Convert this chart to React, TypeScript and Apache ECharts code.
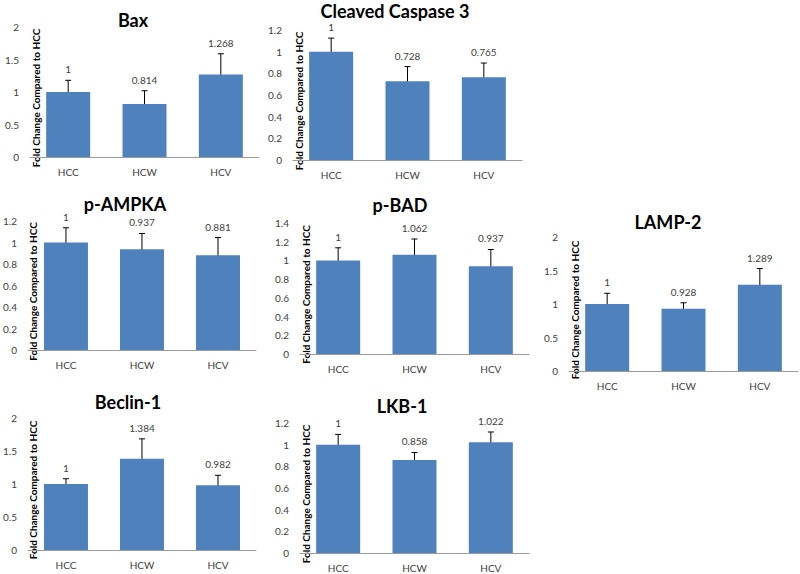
import React, { useEffect, useRef } from "react";
import * as echarts from "echarts";

const categories = ["HCC", "HCW", "HCV"];

const titles = ["Bax", "Cleaved Caspase 3", "p-AMPKA", "p-BAD", "LAMP-2", "Beclin-1", "LKB-1"];

const baxValues = [1, 0.814, 1.268];
const baxErrors = [0.18, 0.205, 0.32];
const caspaseValues = [1, 0.728, 0.765];
const caspaseErrors = [0.125, 0.134, 0.13];
const ampkaValues = [1, 0.937, 0.881];
const ampkaErrors = [0.137, 0.147, 0.165];
const badValues = [1, 1.062, 0.937];
const badErrors = [0.135, 0.167, 0.18];
const lampValues = [1, 0.928, 1.289];
const lampErrors = [0.16, 0.09, 0.24];
const beclinValues = [1, 1.384, 0.982];
const beclinErrors = [0.08, 0.3, 0.15];
const lkbValues = [1, 0.858, 1.022];
const lkbErrors = [0.095, 0.07, 0.095];

const valueSets = [baxValues, caspaseValues, ampkaValues, badValues, lampValues, beclinValues, lkbValues];
const errorSets = [baxErrors, caspaseErrors, ampkaErrors, badErrors, lampErrors, beclinErrors, lkbErrors];

// y-axis scales per panel
const yMaxes = [2, 1.2, 1.2, 1.4, 2, 2, 1.2];
const yIntervals = [0.5, 0.2, 0.2, 0.2, 0.5, 0.5, 0.2];

const yAxisName = "Fold Change Compared to HCC";

// layout (pixels): left, top, width, height of plot area; title centre
const layouts = [
  { left: 30, top: 27, width: 229, height: 130, tx: 133, ty: 20 },
  { left: 293, top: 30, width: 229, height: 130, tx: 395, ty: 11 },
  { left: 27, top: 221, width: 229, height: 129, tx: 125, ty: 204 },
  { left: 300, top: 223, width: 229, height: 131, tx: 400, ty: 205 },
  { left: 569, top: 237, width: 229, height: 134, tx: 668, ty: 222 },
  { left: 27, top: 418, width: 229, height: 132, tx: 128, ty: 402 },
  { left: 300, top: 423, width: 229, height: 130, tx: 402, ty: 406 },
];

const FONT = "Lato, 'Open Sans', sans-serif";
const BAR_COLOR = "#4F81BD";
const TEXT_COLOR = "#404040";

export default function App() {
  const ref = useRef<HTMLDivElement>(null);

  useEffect(() => {
    if (!ref.current) return;
    const chart = echarts.init(ref.current, undefined, { renderer: "svg" });

    const grid: any[] = [];
    const xAxis: any[] = [];
    const yAxis: any[] = [];
    const series: any[] = [];
    const graphic: any[] = [];

    layouts.forEach((l, i) => {
      grid.push({ left: l.left, top: l.top, width: l.width, height: l.height, containLabel: false });
      xAxis.push({
        type: "category",
        gridIndex: i,
        data: categories,
        axisLine: { show: true, lineStyle: { color: "#9a9a9a", width: 1 } },
        axisTick: { show: false },
        axisLabel: { color: TEXT_COLOR, fontFamily: FONT, fontSize: 10, margin: 10 },
        splitLine: { show: false },
      });
      yAxis.push({
        type: "value",
        gridIndex: i,
        min: 0,
        max: yMaxes[i],
        interval: yIntervals[i],
        axisLine: { show: false },
        axisTick: { show: false },
        splitLine: { show: false },
        axisLabel: { color: TEXT_COLOR, fontFamily: FONT, fontSize: 10, margin: 11 },
      });
      series.push({
        type: "bar",
        xAxisIndex: i,
        yAxisIndex: i,
        data: valueSets[i],
        barWidth: 44,
        itemStyle: { color: BAR_COLOR },
        silent: true,
      });
      series.push({
        type: "custom",
        xAxisIndex: i,
        yAxisIndex: i,
        encode: { x: 0, y: 1 },
        data: valueSets[i].map((v, k) => [k, v, errorSets[i][k]]),
        renderItem: (params: any, api: any) => {
          const x = api.value(0);
          const v = api.value(1);
          const e = api.value(2);
          const top = api.coord([x, v + e]);
          const bot = api.coord([x, v - e]);
          const cx = top[0];
          const st = { stroke: "#000", lineWidth: 1 };
          return {
            type: "group",
            children: [
              { type: "line", shape: { x1: cx, y1: top[1], x2: cx, y2: bot[1] }, style: st },
              { type: "line", shape: { x1: cx - 3, y1: top[1], x2: cx + 3, y2: top[1] }, style: st },
              { type: "line", shape: { x1: cx - 3, y1: bot[1], x2: cx + 3, y2: bot[1] }, style: st },
              {
                type: "text",
                x: cx,
                y: top[1] - 11,
                style: {
                  text: String(v),
                  fill: TEXT_COLOR,
                  font: `10px ${FONT}`,
                  align: "center",
                  verticalAlign: "middle",
                },
              },
            ],
          };
        },
        silent: true,
      });
      graphic.push({
        type: "text",
        x: l.tx,
        y: l.ty,
        style: {
          text: titles[i],
          fill: "#000",
          font: `bold 18px ${FONT}`,
          align: "center",
          verticalAlign: "middle",
        },
      });
      graphic.push({
        type: "text",
        x: l.left + 6,
        y: l.top + l.height / 2 + 6,
        rotation: Math.PI / 2,
        style: {
          text: yAxisName,
          fill: "#000",
          font: `bold 10px ${FONT}`,
          align: "center",
          verticalAlign: "middle",
        },
      });
    });

    chart.setOption({
      animation: false,
      backgroundColor: "#fff",
      grid,
      xAxis,
      yAxis,
      series,
      graphic,
    });

    return () => chart.dispose();
  }, []);

  return (
    <div
      ref={ref}
      style={{ position: "fixed", left: 0, top: 0, width: 800, height: 574, background: "#fff" }}
    />
  );
}
